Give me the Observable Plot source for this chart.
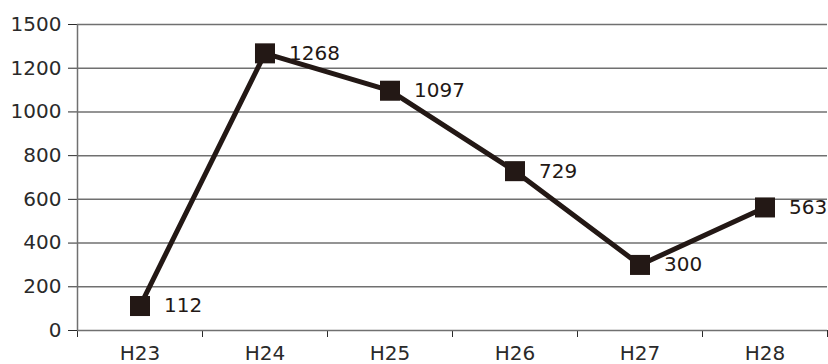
<!DOCTYPE html>
<html>
<head>
<meta charset="utf-8">
<script src="https://cdn.jsdelivr.net/npm/d3@7"></script>
<script src="https://cdn.jsdelivr.net/npm/@observablehq/plot@0.6"></script>
<style>
  html, body { margin: 0; padding: 0; background: #fff; }
  #chart { width: 828px; height: 364px; overflow: hidden; }
</style>
</head>
<body>
<div id="chart"></div>
<script>
const categories = ["H23", "H24", "H25", "H26", "H27", "H28"];
const values = [112, 1268, 1097, 729, 300, 563];
const yTickValues = [0, 200, 400, 600, 800, 1000, 1200, 1400];
const yTickLabels = ["0", "200", "400", "600", "800", "1000", "1200", "1500"];

const data = categories.map((c, i) => ({i, cat: c, value: values[i]}));
const boundaries = d3.range(categories.length + 1).map(k => k - 0.5);

const FONT = "'DejaVu Sans', sans-serif";
const INK = "#231815";
const GRID = "#707070";

const chart = Plot.plot({
  width: 828,
  height: 364,
  marginTop: 24,
  marginBottom: 34,
  marginLeft: 77,
  marginRight: 1,
  style: {fontFamily: FONT, fontSize: "20px", color: "#2a2a2a", background: "#fff", overflow: "hidden"},
  x: {
    domain: [-0.5, categories.length - 0.5],
    ticks: boundaries,
    tickFormat: () => "",
    tickSize: 7,
    label: null
  },
  y: {
    domain: [0, 1400],
    ticks: yTickValues,
    tickFormat: d => yTickLabels[yTickValues.indexOf(d)],
    tickSize: 9,
    tickPadding: 7,
    label: null
  },
  marks: [
    Plot.ruleY(yTickValues, {stroke: GRID, strokeWidth: 1.5}),
    Plot.ruleX([-0.5], {stroke: GRID, strokeWidth: 1.5}),
    Plot.line(data, {x: "i", y: "value", stroke: INK, strokeWidth: 5}),
    Plot.dot(data, {x: "i", y: "value", symbol: "square", r: 11.3, fill: INK, stroke: "none"}),
    Plot.text(data, {x: "i", y: "value", text: d => String(d.value), textAnchor: "start", dx: 24, dy: 0, fontSize: 20, fill: INK}),
    Plot.text(categories, {x: (d, i) => i, text: d => d, frameAnchor: "bottom", dy: 29, fontSize: 20, fill: "#2a2a2a"})
  ]
});
document.getElementById("chart").appendChild(chart);
</script>
</body>
</html>
